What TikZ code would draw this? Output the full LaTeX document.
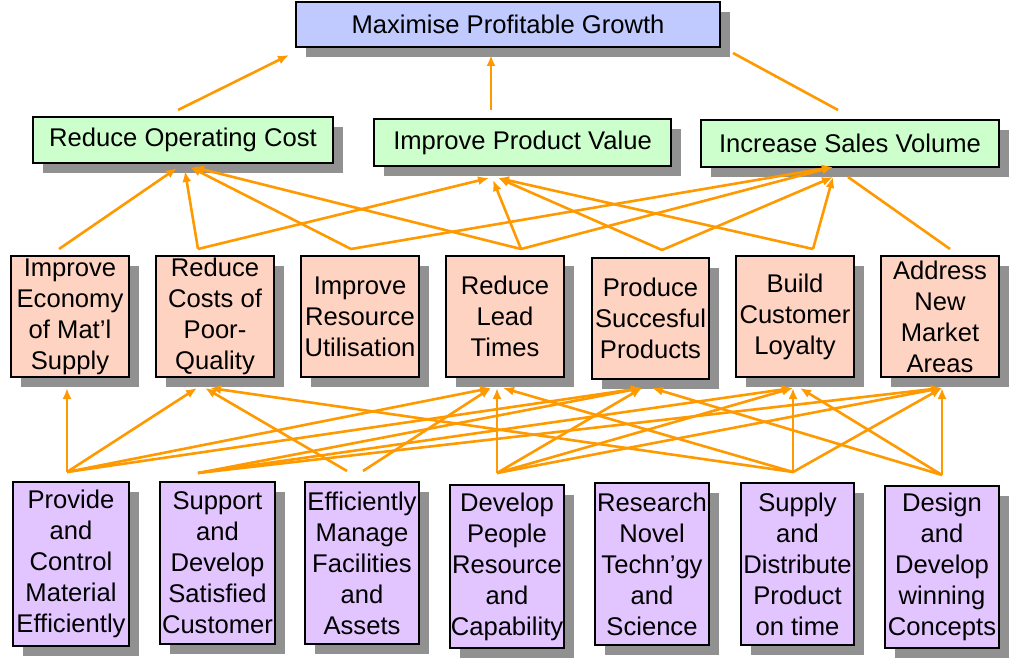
\documentclass[tikz,border=0pt]{standalone}
\usepackage{fontspec}
\setmainfont{Liberation Sans}
\usetikzlibrary{shadows,arrows.meta}
\definecolor{topfill}{RGB}{192,202,255}
\definecolor{greenfill}{RGB}{204,255,204}
\definecolor{pinkfill}{RGB}{255,211,194}
\definecolor{purplefill}{RGB}{226,196,255}
\definecolor{shadowgray}{RGB}{145,145,145}
\definecolor{arrorange}{RGB}{255,153,0}
\begin{document}
\begin{tikzpicture}[x=1pt,y=-1pt,
  box/.style={draw=black, line width=1.3pt, inner sep=0pt, align=center,
    font=\fontsize{25.6}{31}\selectfont,
    drop shadow={shadow xshift=10pt, shadow yshift=-10pt, fill=shadowgray, opacity=1}},
  topbox/.style={box, fill=topfill},
  greenbox/.style={box, fill=greenfill},
  pinkbox/.style={box, fill=pinkfill},
  purplebox/.style={box, fill=purplefill},
  arr/.style={draw=arrorange, line width=2.6pt, -{Latex[length=11pt,width=9pt]}},
  plain/.style={draw=arrorange, line width=2.6pt}]
\useasboundingbox (0,0) rectangle (1024,671);
\fill[white] (0,0) rectangle (1024,671);

% top
\node[topbox, minimum width=424, minimum height=45] (mpg) at (508,24.5) {Maximise Profitable Growth};
% row 2
\node[greenbox, minimum width=300, minimum height=46] (roc) at (183,140) {Reduce Operating Cost};
\node[greenbox, minimum width=297, minimum height=47] (ipv) at (522.5,142.5) {Improve Product Value};
\node[greenbox, minimum width=298, minimum height=47] (isv) at (850,143.5) {Increase Sales Volume};
% row 3
\node[pinkbox, minimum width=118, minimum height=121] (iems) at (70,316.5) {Improve\\Economy\\of Mat’l\\Supply};
\node[pinkbox, minimum width=118, minimum height=121] (rcpq) at (215,316.5) {Reduce\\Costs of\\Poor-\\Quality};
\node[pinkbox, minimum width=118, minimum height=121] (iru) at (360,316.5) {Improve\\Resource\\Utilisation};
\node[pinkbox, minimum width=118, minimum height=121] (rlt) at (505,316.5) {Reduce\\Lead\\Times};
\node[pinkbox, minimum width=117, minimum height=121] (psp) at (650.5,318.5) {Produce\\Succesful\\Products};
\node[pinkbox, minimum width=118, minimum height=121] (bcl) at (795,316.5) {Build\\Customer\\Loyalty};
\node[pinkbox, minimum width=118, minimum height=121] (anma) at (940,316.5) {Address\\New\\Market\\Areas};
% row 4
\node[purplebox, minimum width=116, minimum height=164] (pcm) at (71,564) {Provide\\and\\Control\\Material\\Efficiently};
\node[purplebox, minimum width=115, minimum height=162] (sdsc) at (217.5,563) {Support\\and\\Develop\\Satisfied\\Customer};
\node[purplebox, minimum width=114, minimum height=162] (emfa) at (362,563) {Efficiently\\Manage\\Facilities\\and\\Assets};
\node[purplebox, minimum width=114, minimum height=163] (dprc) at (507,566.5) {Develop\\People\\Resource\\and\\Capability};
\node[purplebox, minimum width=114, minimum height=162] (rnts) at (652,564) {Research\\Novel\\Techn’gy\\and\\Science};
\node[purplebox, minimum width=113, minimum height=162] (sdpt) at (797.5,564) {Supply\\and\\Distribute\\Product\\on time};
\node[purplebox, minimum width=114, minimum height=162] (ddwc) at (942,567) {Design\\and\\Develop\\winning\\Concepts};

% connector end points
\coordinate (roc-up) at (178,110);
\coordinate (ipv-up) at (491,110);
\coordinate (isv-up) at (838,110);
\coordinate (mpg-l) at (289,55);
\coordinate (mpg-m) at (491,55);
\coordinate (mpg-r) at (733,53);

\coordinate (s3-1) at (59,249);
\coordinate (s3-2) at (198,249);
\coordinate (s3-3) at (351,249);
\coordinate (s3-4) at (521,249);
\coordinate (s3-5) at (662,250);
\coordinate (s3-6) at (813,249);
\coordinate (s3-7) at (950,249);
\coordinate (roc-a) at (177,168);
\coordinate (roc-b) at (185,171);
\coordinate (roc-c) at (190,167);
\coordinate (roc-d) at (193,167);
\coordinate (ipv-a) at (489,178);
\coordinate (ipv-b) at (493,180);
\coordinate (ipv-c) at (498,178);
\coordinate (isv-a) at (833,167);
\coordinate (isv-b) at (833,177);
\coordinate (isv-c) at (848,177);

\coordinate (s4-1) at (67,472);
\coordinate (s4-2) at (198,473);
\coordinate (s4-3a) at (347,471);
\coordinate (s4-3b) at (363,471);
\coordinate (s4-4) at (497,473);
\coordinate (s4-6) at (793,472);
\coordinate (s4-7) at (942,475);
\coordinate (iems-t) at (67,388);
\coordinate (rcpq-a) at (197,388);
\coordinate (rcpq-b) at (205,388);
\coordinate (rcpq-c) at (210,388);
\coordinate (rlt-a) at (491,388);
\coordinate (rlt-b) at (497,388);
\coordinate (rlt-c) at (503,388);
\coordinate (psp-a) at (642,388);
\coordinate (psp-b) at (652,388);
\coordinate (bcl-a) at (793,388);
\coordinate (bcl-b) at (800,388);
\coordinate (anma-t) at (942,388);

% row 2 -> top
\draw[arr] (roc-up) -- (mpg-l);
\draw[arr] (ipv-up) -- (mpg-m);
\draw[plain] (isv-up) -- (mpg-r);

% row 3 -> row 2
\draw[arr] (s3-1) -- (roc-a);
\draw[arr] (s3-2) -- (roc-b);
\draw[arr] (s3-3) -- (roc-c);
\draw[arr] (s3-4) -- (roc-d);
\draw[arr] (s3-2) -- (ipv-a);
\draw[arr] (s3-4) -- (ipv-b);
\draw[arr] (s3-5) -- (ipv-c);
\draw[arr] (s3-6) -- (ipv-c);
\draw[arr] (s3-3) -- (isv-a);
\draw[arr] (s3-4) -- (isv-a);
\draw[arr] (s3-5) -- (isv-b);
\draw[arr] (s3-6) -- (isv-b);
\draw[plain] (s3-7) -- (isv-c);

% row 4 -> row 3
\draw[arr] (s4-1) -- (iems-t);
\draw[arr] (s4-1) -- (rcpq-a);
\draw[arr] (s4-1) -- (rlt-a);
\draw[arr] (s4-1) -- (psp-a);
\draw[arr] (s4-2) -- (psp-a);
\draw[arr] (s4-2) -- (bcl-a);
\draw[arr] (s4-2) -- (anma-t);
\draw[arr] (s4-3a) -- (rcpq-b);
\draw[arr] (s4-3b) -- (rlt-a);
\draw[arr] (s4-4) -- (rlt-b);
\draw[arr] (s4-4) -- (psp-a);
\draw[arr] (s4-4) -- (bcl-a);
\draw[arr] (s4-4) -- (anma-t);
\draw[arr] (s4-6) -- (rcpq-c);
\draw[arr] (s4-6) -- (rlt-c);
\draw[arr] (s4-6) -- (bcl-a);
\draw[arr] (s4-6) -- (anma-t);
\draw[arr] (s4-7) -- (psp-b);
\draw[arr] (s4-7) -- (bcl-b);
\draw[arr] (s4-7) -- (anma-t);
\end{tikzpicture}
\end{document}
